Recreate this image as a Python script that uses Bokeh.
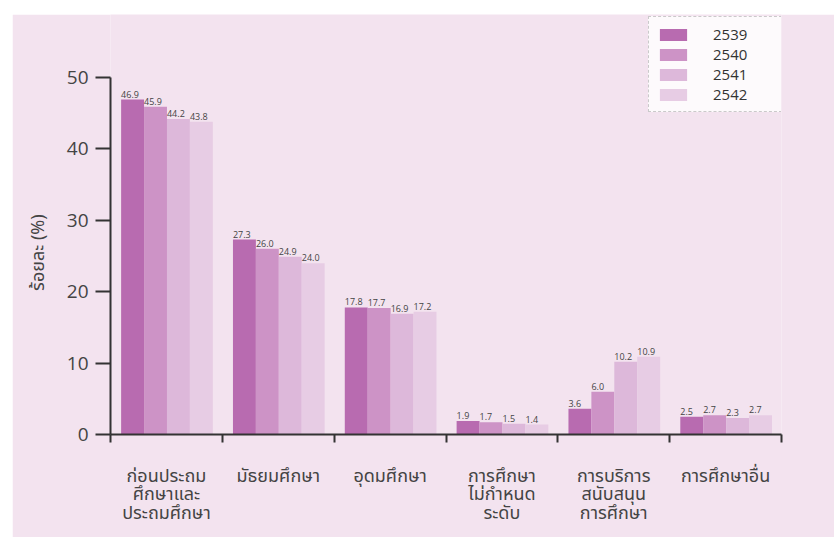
import numpy as np
from bokeh.plotting import figure
from bokeh.models import Range1d, FixedTicker, LinearAxis, Legend, LegendItem
from bokeh.core.properties import value
from bokeh.embed import file_html
from bokeh.resources import INLINE

categories = ["ก่อนประถม\nศึกษาและ\nประถมศึกษา", "มัธยมศึกษา", "อุดมศึกษา",
              "การศึกษา\nไม่กำหนด\nระดับ", "การบริการ\nสนับสนุน\nการศึกษา", "การศึกษาอื่น"]
years = ["2539", "2540", "2541", "2542"]
v2539 = [46.9, 27.3, 17.8, 1.9, 3.6, 2.5]
v2540 = [45.9, 26.0, 17.7, 1.7, 6.0, 2.7]
v2541 = [44.2, 24.9, 16.9, 1.5, 10.2, 2.3]
v2542 = [43.8, 24.0, 17.2, 1.4, 10.9, 2.7]
y_ticks = [0, 10, 20, 30, 40, 50]

series = [v2539, v2540, v2541, v2542]
colors = ["#b86bb0", "#cd93c6", "#ddb8da", "#e7cce4"]
bg = "#f3e3ef"
THAI = "Noto Sans Thai, Noto Sans"
NUM = "Open Sans"

p = figure(width=822, height=523, x_range=Range1d(0, 6), y_range=Range1d(0, 58.82),
           output_backend="svg", toolbar_location=None, min_border=0,
           min_border_left=98, min_border_right=53, min_border_top=0, min_border_bottom=103,
           background_fill_color=bg, border_fill_color=bg, outline_line_color=None)
p.margin = (14, 0, 0, 12)
p.grid.visible = False

bw = 0.205
start = 0.095
idx = np.arange(len(categories))
items = []
for k, (vals, col, yr) in enumerate(zip(series, colors, years)):
    xc = idx + start + bw * (k + 0.5)
    r = p.vbar(x=xc, top=vals, width=bw, fill_color=col, line_color=None)
    items.append(LegendItem(label=yr, renderers=[r]))
    p.text(x=xc - bw / 2, y=vals, text=[f"{v:.1f}" for v in vals],
           text_font=value(NUM), text_font_size="9px", text_color="#444",
           text_baseline="bottom", text_align="left", x_offset=0, y_offset=-2)

# x axis with boundary ticks
xa = p.xaxis[0]
xa.ticker = FixedTicker(ticks=list(range(len(categories) + 1)))
xa.major_label_overrides = {i: "" for i in range(len(categories) + 1)}
xa.major_label_text_font_size = "1px"
xa.major_tick_in = 0
xa.major_tick_out = 8
xa.minor_tick_line_color = None
xa.axis_line_color = "#333"
xa.axis_line_width = 2
xa.major_tick_line_color = "#333"
xa.major_tick_line_width = 2

centers = [i + 0.5 for i in range(len(categories))]
lab = LinearAxis(ticker=FixedTicker(ticks=centers),
                 major_label_overrides={c: t for c, t in zip(centers, categories)},
                 axis_line_color=None, major_tick_line_color=None, minor_tick_line_color=None,
                 major_label_text_font=THAI, major_label_text_font_size="18px",
                 major_label_text_color="#444", major_label_standoff=14,
                 major_label_text_line_height=0.69)
p.add_layout(lab, "below")

ya = p.yaxis[0]
ya.ticker = FixedTicker(ticks=y_ticks)
ya.bounds = (0, 50)
ya.major_tick_in = 0
ya.major_tick_out = 15
ya.minor_tick_line_color = None
ya.axis_line_color = "#333"
ya.axis_line_width = 2
ya.major_tick_line_color = "#333"
ya.major_tick_line_width = 2
ya.major_label_text_font = NUM
ya.major_label_text_font_size = "19px"
ya.major_label_text_color = "#444"
ya.major_label_standoff = 7
ya.axis_label = "ร้อยละ (%)" + "\u00a0" * 12
ya.axis_label_text_font = THAI
ya.axis_label_text_font_size = "18px"
ya.axis_label_text_font_style = "normal"
ya.axis_label_text_color = "#444"
ya.axis_label_standoff = 12

legend = Legend(items=items, location=(538, 322), orientation="vertical",
                glyph_width=34, glyph_height=15, label_height=15, spacing=0,
                label_standoff=23, padding=7, label_width=61,
                label_text_font=NUM, label_text_font_size="15px", label_text_color="#333",
                background_fill_color="white", background_fill_alpha=0.8,
                border_line_color="#999", border_line_dash="dotted", border_line_width=1)
p.add_layout(legend, "center")

open("out.html", "w").write(file_html(p, INLINE))
